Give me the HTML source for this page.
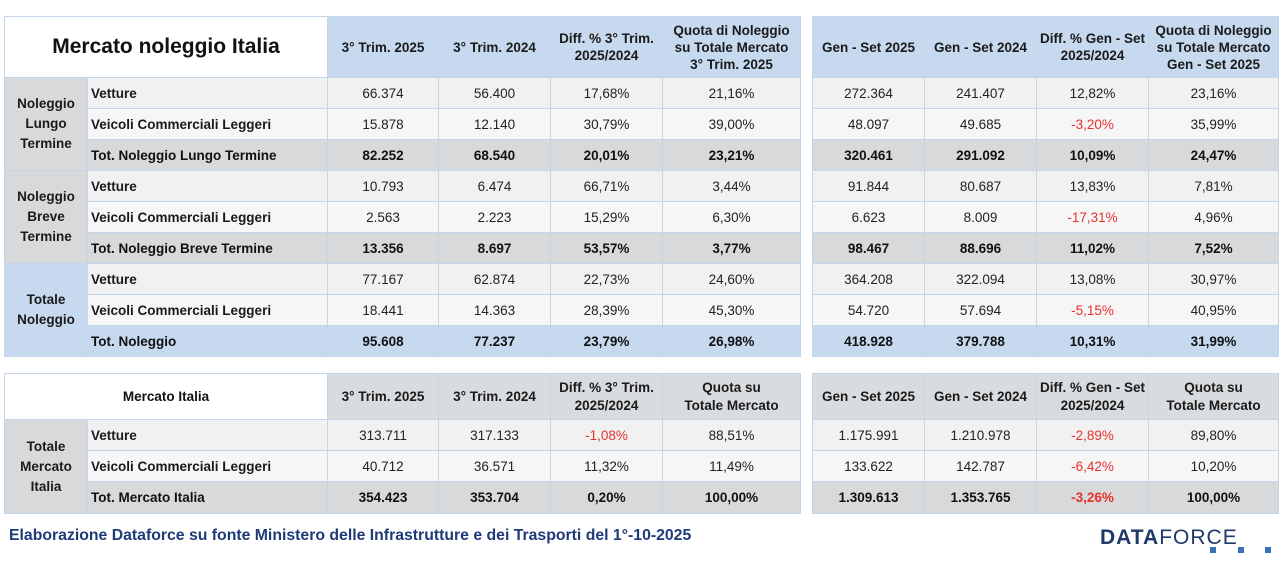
<!DOCTYPE html>
<html><head><meta charset="utf-8"><style>
body{margin:0;width:1280px;height:562px;background:#fff;position:relative;overflow:hidden;font-family:"Liberation Sans",sans-serif;color:#222}
table{position:absolute;border-collapse:collapse;table-layout:fixed;font-size:13.5px}
td{border:1px solid #c3d5e8;padding:0;text-align:center;white-space:nowrap;overflow:hidden}
.h{background:#c6d9ef;font-weight:bold;font-size:13.5px;line-height:17px;color:#1a1a1a}
.hg{background:#d9dcdf;font-weight:bold;font-size:13.5px;line-height:18px;color:#1a1a1a}
.g{background:#d7d9db;font-weight:bold;font-size:13.5px;line-height:20px;color:#1a1a1a}
.gb{background:#c6d9ef;font-weight:bold;font-size:13.5px;line-height:20px;color:#1a1a1a}
.l{text-align:left;padding-left:3px;font-weight:bold;color:#1a1a1a}
.r1 td{background:#f1f1f2}
.r2 td{background:#f6f6f7}
.t td{background:#d7d9db;font-weight:bold;color:#111}
.tb td{background:#c6d9ef;font-weight:bold;color:#111}
td.n,.t td.n{color:#e8302c}
tr{height:31px}
</style></head><body>

<table style="left:4px;top:16px;width:796px">
<col style="width:83px"><col style="width:240px"><col style="width:111px"><col style="width:112px"><col style="width:112px"><col style="width:138px">
<tr style="height:61px"><td colspan="2" style="background:#fff;font-size:21px;font-weight:bold;color:#111">Mercato noleggio Italia</td><td class="h">3° Trim. 2025</td><td class="h">3° Trim. 2024</td><td class="h">Diff. % 3° Trim.<br>2025/2024</td><td class="h">Quota di Noleggio<br>su Totale Mercato<br>3° Trim. 2025</td></tr>
<tr class="r1"><td rowspan="3" class="g" style="background:#d7d9db">Noleggio<br>Lungo<br>Termine</td><td class="l">Vetture</td><td>66.374</td><td>56.400</td><td>17,68%</td><td>21,16%</td></tr>
<tr class="r2"><td class="l">Veicoli Commerciali Leggeri</td><td>15.878</td><td>12.140</td><td>30,79%</td><td>39,00%</td></tr>
<tr class="t"><td class="l">Tot. Noleggio Lungo Termine</td><td>82.252</td><td>68.540</td><td>20,01%</td><td>23,21%</td></tr>
<tr class="r1"><td rowspan="3" class="g" style="background:#d7d9db">Noleggio<br>Breve<br>Termine</td><td class="l">Vetture</td><td>10.793</td><td>6.474</td><td>66,71%</td><td>3,44%</td></tr>
<tr class="r2"><td class="l">Veicoli Commerciali Leggeri</td><td>2.563</td><td>2.223</td><td>15,29%</td><td>6,30%</td></tr>
<tr class="t"><td class="l">Tot. Noleggio Breve Termine</td><td>13.356</td><td>8.697</td><td>53,57%</td><td>3,77%</td></tr>
<tr class="r1"><td rowspan="3" class="gb" style="background:#c6d9ef">Totale<br>Noleggio</td><td class="l">Vetture</td><td>77.167</td><td>62.874</td><td>22,73%</td><td>24,60%</td></tr>
<tr class="r2"><td class="l">Veicoli Commerciali Leggeri</td><td>18.441</td><td>14.363</td><td>28,39%</td><td>45,30%</td></tr>
<tr class="tb"><td class="l">Tot. Noleggio</td><td>95.608</td><td>77.237</td><td>23,79%</td><td>26,98%</td></tr>
</table>

<table style="left:812px;top:16px;width:466px">
<col style="width:112px"><col style="width:112px"><col style="width:112px"><col style="width:130px">
<tr style="height:61px"><td class="h">Gen - Set 2025</td><td class="h">Gen - Set 2024</td><td class="h">Diff. % Gen - Set<br>2025/2024</td><td class="h">Quota di Noleggio<br>su Totale Mercato<br>Gen - Set 2025</td></tr>
<tr class="r1"><td>272.364</td><td>241.407</td><td>12,82%</td><td>23,16%</td></tr>
<tr class="r2"><td>48.097</td><td>49.685</td><td class="n">-3,20%</td><td>35,99%</td></tr>
<tr class="t"><td>320.461</td><td>291.092</td><td>10,09%</td><td>24,47%</td></tr>
<tr class="r1"><td>91.844</td><td>80.687</td><td>13,83%</td><td>7,81%</td></tr>
<tr class="r2"><td>6.623</td><td>8.009</td><td class="n">-17,31%</td><td>4,96%</td></tr>
<tr class="t"><td>98.467</td><td>88.696</td><td>11,02%</td><td>7,52%</td></tr>
<tr class="r1"><td>364.208</td><td>322.094</td><td>13,08%</td><td>30,97%</td></tr>
<tr class="r2"><td>54.720</td><td>57.694</td><td class="n">-5,15%</td><td>40,95%</td></tr>
<tr class="tb"><td>418.928</td><td>379.788</td><td>10,31%</td><td>31,99%</td></tr>
</table>

<table style="left:4px;top:373px;width:796px">
<col style="width:83px"><col style="width:240px"><col style="width:111px"><col style="width:112px"><col style="width:112px"><col style="width:138px">
<tr style="height:46px"><td colspan="2" style="background:#fff;font-weight:bold;color:#111">Mercato Italia</td><td class="hg">3° Trim. 2025</td><td class="hg">3° Trim. 2024</td><td class="hg">Diff. % 3° Trim.<br>2025/2024</td><td class="hg">Quota su<br>Totale Mercato</td></tr>
<tr class="r1"><td rowspan="3" class="g" style="background:#d7d9db">Totale<br>Mercato<br>Italia</td><td class="l">Vetture</td><td>313.711</td><td>317.133</td><td class="n">-1,08%</td><td>88,51%</td></tr>
<tr class="r2"><td class="l">Veicoli Commerciali Leggeri</td><td>40.712</td><td>36.571</td><td>11,32%</td><td>11,49%</td></tr>
<tr class="t" style="height:32px"><td class="l">Tot. Mercato Italia</td><td>354.423</td><td>353.704</td><td>0,20%</td><td>100,00%</td></tr>
</table>

<table style="left:812px;top:373px;width:466px">
<col style="width:112px"><col style="width:112px"><col style="width:112px"><col style="width:130px">
<tr style="height:46px"><td class="hg">Gen - Set 2025</td><td class="hg">Gen - Set 2024</td><td class="hg">Diff. % Gen - Set<br>2025/2024</td><td class="hg">Quota su<br>Totale Mercato</td></tr>
<tr class="r1"><td>1.175.991</td><td>1.210.978</td><td class="n">-2,89%</td><td>89,80%</td></tr>
<tr class="r2"><td>133.622</td><td>142.787</td><td class="n">-6,42%</td><td>10,20%</td></tr>
<tr class="t" style="height:32px"><td>1.309.613</td><td>1.353.765</td><td class="n">-3,26%</td><td>100,00%</td></tr>
</table>

<div style="position:absolute;left:9px;top:527px;font-size:15.8px;font-weight:bold;color:#1f3a78">Elaborazione Dataforce su fonte Ministero delle Infrastrutture e dei Trasporti del 1°-10-2025</div>
<div style="position:absolute;left:1100px;top:526px;font-size:21px;color:#1f3a68;letter-spacing:1px"><b>DATA</b>FORCE</div>
<div style="position:absolute;left:1210px;top:547px;width:6px;height:6px;background:#3a6fb5"></div>
<div style="position:absolute;left:1238px;top:547px;width:6px;height:6px;background:#3a6fb5"></div>
<div style="position:absolute;left:1265px;top:547px;width:6px;height:6px;background:#3a6fb5"></div>
</body></html>
